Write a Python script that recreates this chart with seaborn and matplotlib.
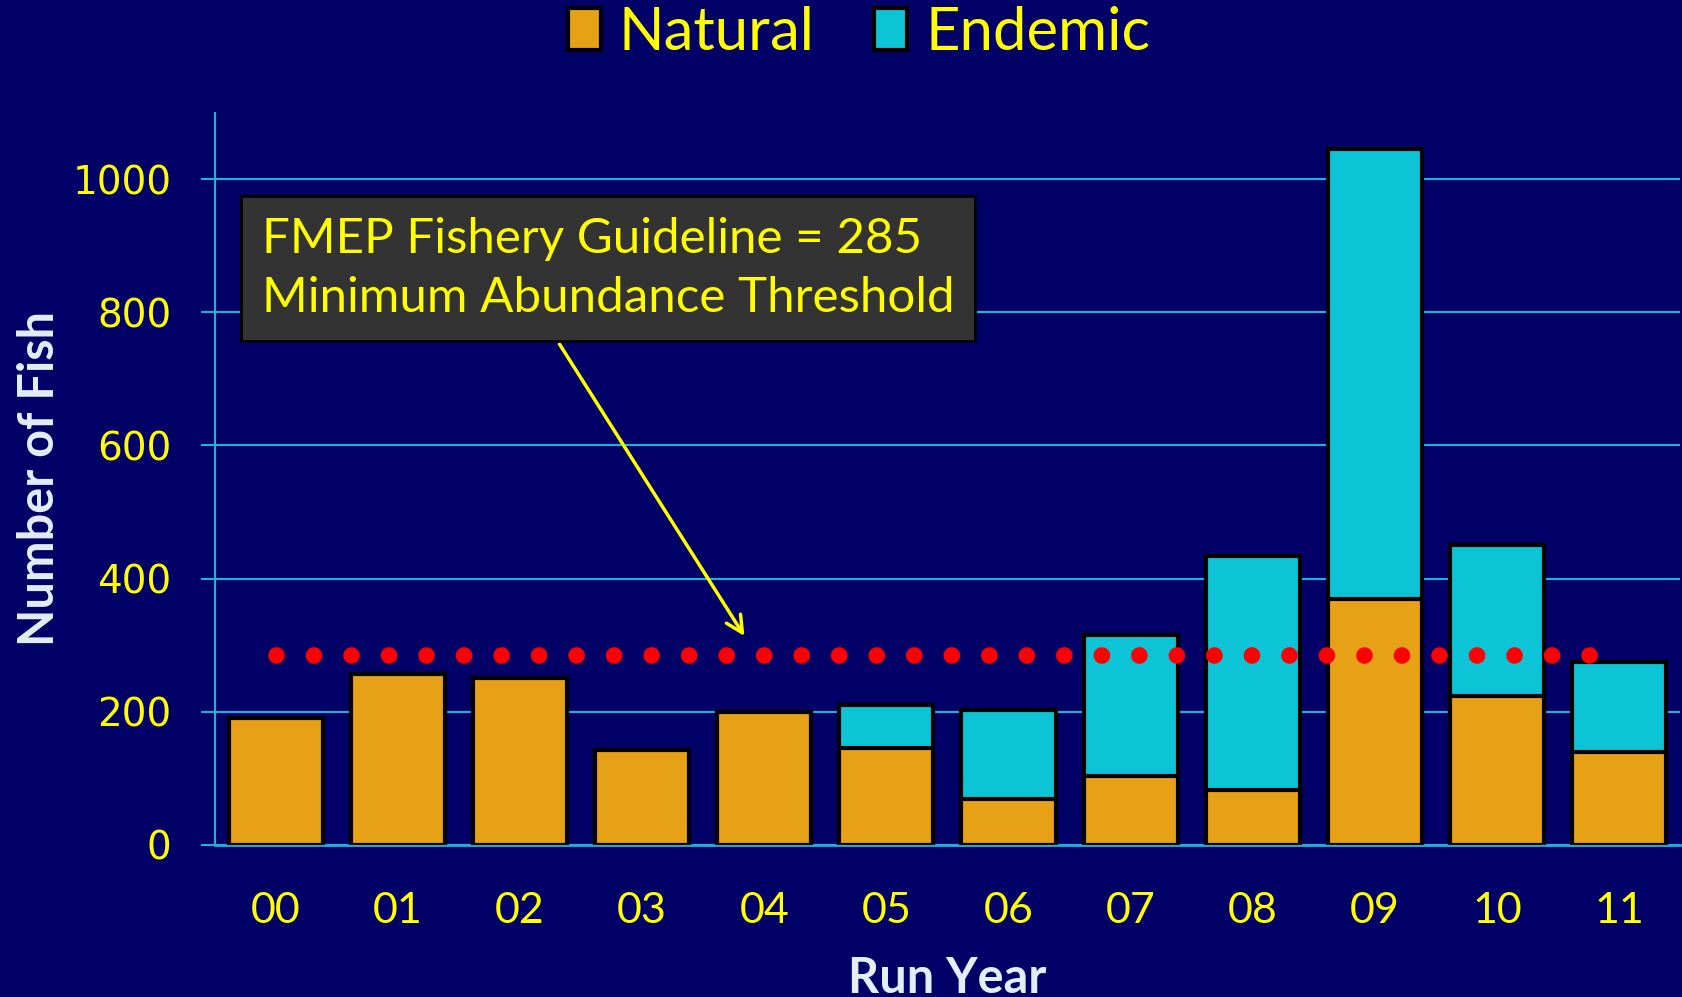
import matplotlib.pyplot as plt
import pandas as pd
import seaborn as sns
from matplotlib.patches import Patch

years = ["00", "01", "02", "03", "04", "05", "06", "07", "08", "09", "10", "11"]
natural = [190, 256, 250, 143, 200, 145, 69, 103, 82, 369, 224, 139]
endemic = [0, 0, 0, 0, 0, 65, 133, 212, 352, 676, 226, 135]
threshold = 285

df = pd.DataFrame({"Run Year": years, "Natural": natural, "Endemic": endemic})
df["Total"] = df["Natural"] + df["Endemic"]

navy = "#000066"
orange = "#E6A117"
cyan = "#0CC4D6"
grid_c = "#19b5d9"
yellow = "#FFFF00"
label_c = "#E4EEF6"

sns.set_style("dark")
plt.rcParams["font.family"] = ["Lato", "DejaVu Sans"]

fig = plt.figure(figsize=(16.83, 9.97), dpi=100, facecolor=navy)
ax = fig.add_axes([0.1276, 0.1527, 0.8707, 0.7343])
ax.set_facecolor(navy)

# endemic drawn as full-height bar, natural on top of it
sns.barplot(data=df, x="Run Year", y="Total", color=cyan, saturation=1,
            width=0.77, edgecolor="black", linewidth=3, errorbar=None, ax=ax, zorder=3)
sns.barplot(data=df, x="Run Year", y="Natural", color=orange, saturation=1,
            width=0.77, edgecolor="black", linewidth=3, errorbar=None, ax=ax, zorder=3)

# threshold dotted line
ax.hlines(threshold, 0, 10.8, colors="#FF0000", linewidth=12,
          linestyles=(0, (0.001, 2.25)), capstyle="round", zorder=5)

ax.set_xlim(-0.5, 11.5)
ax.set_ylim(0, 1100)
ax.set_yticks([0, 200, 400, 600, 800, 1000])
ax.grid(axis="y", color=grid_c, linewidth=1.5)
ax.grid(axis="x", visible=False)
ax.set_axisbelow(True)

for s in ["top", "right"]:
    ax.spines[s].set_visible(False)
ax.spines["left"].set_color(grid_c)
ax.spines["left"].set_linewidth(1.5)
ax.spines["bottom"].set_color(grid_c)
ax.spines["bottom"].set_linewidth(2)

ax.tick_params(axis="y", length=10, width=1.5, color=grid_c, colors=yellow,
               labelsize=28, pad=21, left=True)
for t in ax.get_yticklabels():
    t.set_fontfamily("DejaVu Sans")
ax.tick_params(axis="x", length=0, colors=yellow, labelsize=31, pad=34)

ax.set_xlabel("Run Year", fontsize=35, fontweight="bold", color=label_c)
ax.xaxis.label.set_va("baseline")
ax.xaxis.set_label_coords(0.5, -0.2026)
ax.set_ylabel("Number of Fish", fontsize=35, fontweight="bold", color=label_c)
ax.yaxis.label.set_va("baseline")
ax.yaxis.set_label_coords(-0.11, 0.5)

# annotation
ax.annotate("", xy=(3.85, 310), xytext=(2.31, 756),
            arrowprops=dict(arrowstyle="->", color=yellow, lw=2.5, mutation_scale=30),
            zorder=6)
ax.text(2.72, 866, "FMEP Fishery Guideline = 285\nMinimum Abundance Threshold",
        ha="center", va="center", multialignment="left", fontsize=35.5,
        color=yellow, linespacing=1.42, zorder=7,
        bbox=dict(boxstyle="square,pad=0.42", fc="#333333", ec="black", lw=2))

handles = [Patch(facecolor=orange, edgecolor="black", linewidth=3, label="Natural"),
           Patch(facecolor=cyan, edgecolor="black", linewidth=3, label="Endemic")]
leg = fig.legend(handles=handles, loc="center", bbox_to_anchor=(859 / 1683, 1 - 33 / 997),
                 ncol=2, frameon=False, fontsize=43, handlelength=0.55, handleheight=0.7,
                 handletextpad=0.3, columnspacing=1.0)
for t in leg.get_texts():
    t.set_color(yellow)

fig.savefig("out.png", dpi=100, facecolor=navy)
